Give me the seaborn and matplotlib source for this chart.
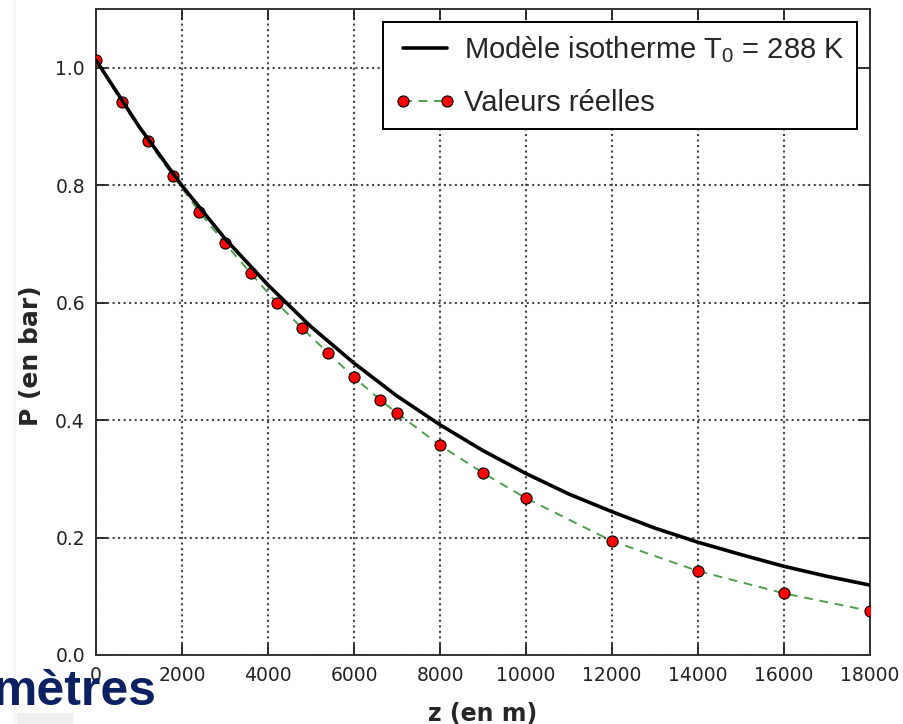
import matplotlib
matplotlib.use('Agg')
import matplotlib.pyplot as plt
import seaborn as sns
from matplotlib.patches import Rectangle
from matplotlib.lines import Line2D

z_modele = [0, 1000, 2000, 3000, 4000, 5000, 6000, 7000, 8000, 9000,
            10000, 11000, 12000, 13000, 14000, 15000, 16000, 17000, 18000]
p_modele = [1.013, 0.900, 0.799, 0.709, 0.630, 0.559, 0.497, 0.441, 0.392, 0.348,
            0.309, 0.274, 0.244, 0.216, 0.192, 0.171, 0.151, 0.134, 0.119]

# valeurs réelles (points rouges)
z_reel = [0, 600, 1200, 1800, 2400, 3000, 3600, 4200, 4800, 5400,
          6000, 6600, 7000, 8000, 9000, 10000, 12000, 14000, 16000, 18000]
p_reel = [1.013, 0.942, 0.876, 0.815, 0.755, 0.701, 0.650, 0.600, 0.556, 0.514,
          0.473, 0.435, 0.412, 0.357, 0.310, 0.267, 0.194, 0.143, 0.105, 0.075]

x_ticks = [0, 2000, 4000, 6000, 8000, 10000, 12000, 14000, 16000, 18000]
y_ticks = [0.0, 0.2, 0.4, 0.6, 0.8, 1.0]

sns.set_style('ticks')
plt.rcParams['font.family'] = ['DejaVu Sans']
plt.rcParams['mathtext.fontset'] = 'custom'
plt.rcParams['mathtext.rm'] = 'Liberation Sans'
plt.rcParams['mathtext.it'] = 'Liberation Sans:italic'

fig = plt.figure(figsize=(9.04, 7.24), dpi=100)
ax = fig.add_axes([96 / 904, 69 / 724, 774 / 904, 646 / 724])

sns.lineplot(x=z_modele, y=p_modele, ax=ax, color='black', linewidth=2.6,
             label='Modèle isotherme T$_0$ = 288 K', zorder=4)
sns.lineplot(x=z_reel, y=p_reel, ax=ax, color='#4f9f4f', linewidth=1.4,
             linestyle=(0, (4.5, 3.5)), marker='o', markersize=8,
             markerfacecolor='red', markeredgecolor='black', markeredgewidth=0.8,
             label='Valeurs réelles', zorder=3)

ax.set_xlim(0, 18000)
ax.set_ylim(0, 1.1)
ax.set_xticks(x_ticks)
ax.set_yticks(y_ticks)
ax.set_yticklabels([f'{v:.1f}' for v in y_ticks])
ax.tick_params(direction='in', length=8, width=1.3, top=True, right=True,
               labelsize=13.5, colors='#222222', pad=8)
ax.grid(True, linestyle=':', color='#444444', linewidth=1.5)
for s in ax.spines.values():
    s.set_color('#333333')
    s.set_linewidth(1.4)

ax.set_xlabel('z (en m)', fontsize=17, fontweight='bold', labelpad=12)
ax.set_ylabel('P (en bar)', fontsize=18, fontweight='bold')
ax.yaxis.set_label_coords(-0.068, 0.463)

leg = ax.legend(loc='upper right', prop={'family': 'Liberation Sans', 'size': 21},
                frameon=True, fancybox=False, framealpha=1, edgecolor='black',
                handlelength=2.1, handletextpad=0.3, labelspacing=0.85,
                borderaxespad=0.45, borderpad=0.4, numpoints=2)
leg.get_frame().set_linewidth(1.4)

# fragments de la diapositive autour du graphique
fig.text(157 / 904, 19 / 724, 'mètres', ha='right', va='baseline',
         fontsize=36, fontweight='bold', color='#0d2162', family='Liberation Sans',
         zorder=0)
fig.patches.append(Rectangle((17 / 904, 0), 55 / 904, 11 / 724,
                             transform=fig.transFigure, color='#eeeeee', zorder=0))
fig.add_artist(Line2D([14 / 904, 14 / 904], [0, 1], color='#f2f2f2', linewidth=1,
                      zorder=0))

fig.savefig('out.png', dpi=100)
